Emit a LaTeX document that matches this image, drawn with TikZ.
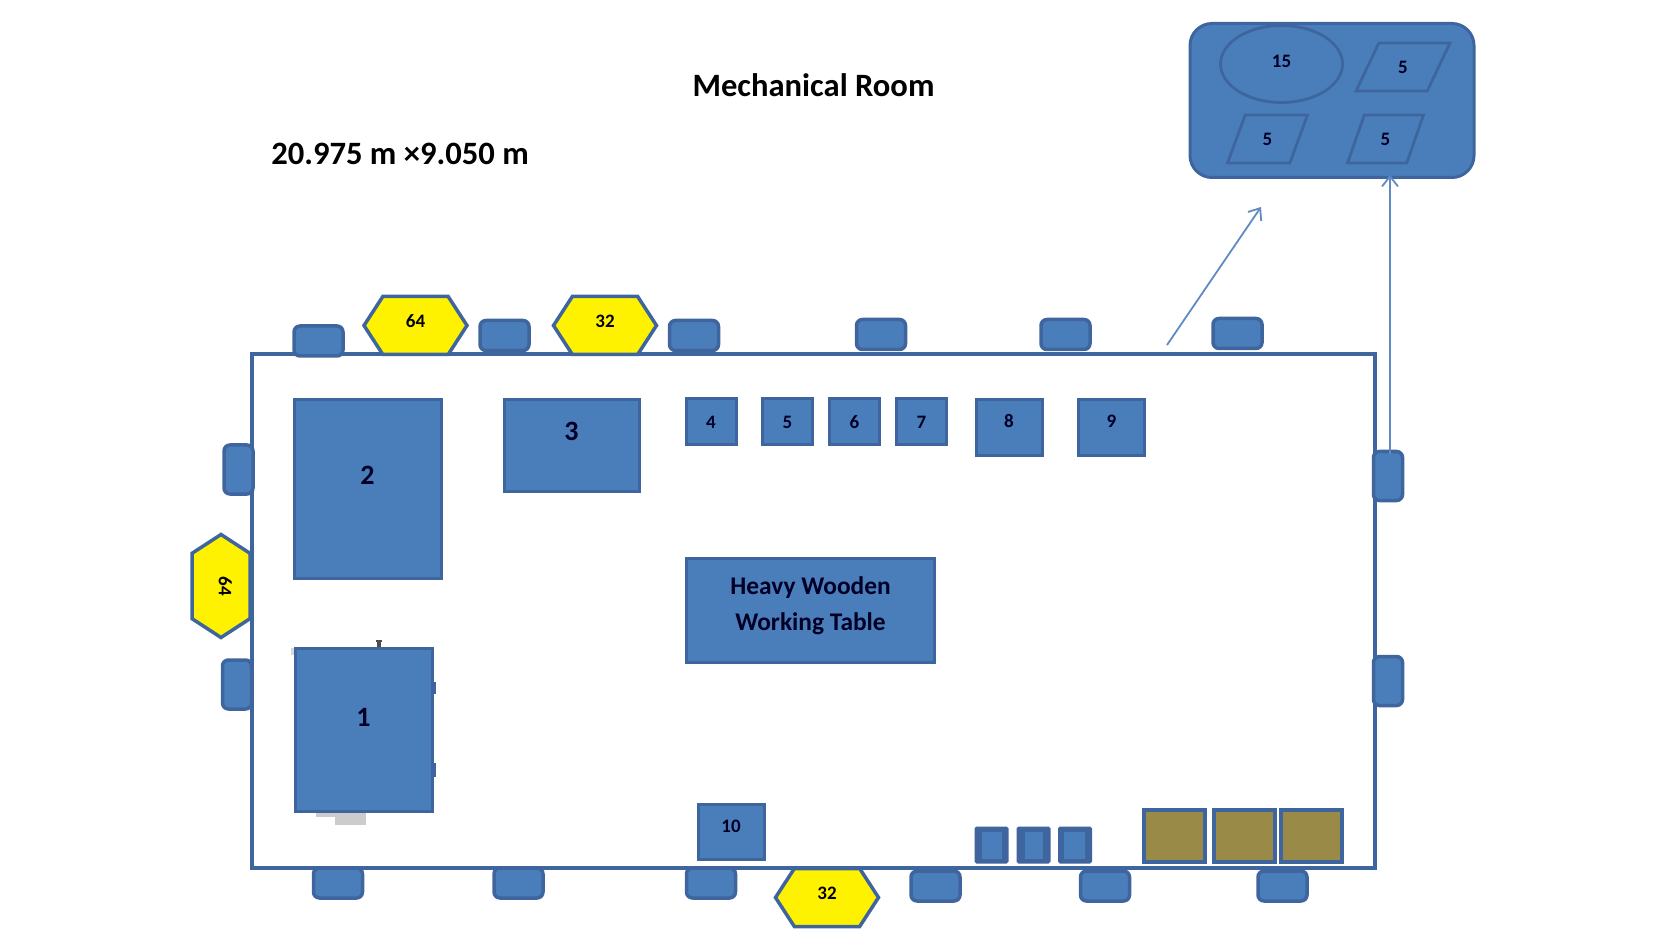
\documentclass[tikz,border=0pt]{standalone}
\usepackage{fontspec}
\setmainfont{Carlito}
\usetikzlibrary{shapes.geometric,shapes.symbols,arrows.meta,positioning}
\definecolor{steelfill}{HTML}{4A7EBB}
\definecolor{steeldraw}{HTML}{3F659E}
\definecolor{steelline}{HTML}{5F8AC2}
\definecolor{olivefill}{HTML}{9A8A48}
\tikzstyle{wallbox} = [rectangle, minimum width=561.5pt, minimum height=257pt, inner sep=0pt, draw=steeldraw, line width=1.75pt, fill=white]
\tikzstyle{block} = [rectangle, inner sep=0pt, draw=steeldraw, line width=1.5pt, fill=steelfill, font=\bfseries\fontsize{9.5}{11}\selectfont, text=black!85!blue]
\tikzstyle{bigblock} = [block, font=\bfseries\fontsize{14}{16}\selectfont]
\tikzstyle{stub} = [block, rounded corners=3pt, line width=1.75pt, minimum width=24.5pt, minimum height=15pt]
\tikzstyle{sidestub} = [stub, minimum width=14.5pt, minimum height=24.5pt]
\tikzstyle{hexa} = [signal, signal to=west and east, signal pointer angle=114, minimum width=51.5pt, minimum height=29pt, inner sep=0pt, draw=steeldraw, line width=1.75pt, fill=yellow, font=\bfseries\fontsize{9.5}{11}\selectfont, text=black, text depth=4.3pt]
\tikzstyle{minibox} = [block, minimum width=15.5pt, minimum height=17pt, rounded corners=0.5pt, fill=steeldraw]
\tikzstyle{crate} = [block, minimum width=30.5pt, minimum height=26pt, line width=2pt, fill=olivefill]
\tikzstyle{slant} = [trapezium, trapezium left angle=73, trapezium right angle=107, trapezium stretches=true, minimum width=38pt, minimum height=24pt, inner sep=0pt, draw=steeldraw, line width=1.4pt, fill=steelfill, font=\bfseries\fontsize{9.5}{11}\selectfont, text=black!85!blue]
\tikzstyle{arrow} = [steelline, line width=0.9pt, -{Straight Barb[length=5pt,width=8pt]}]
\begin{document}
\begin{tikzpicture}[x=0.5pt,y=-0.5pt]
\useasboundingbox (0,0) rectangle (1654,930);

\node (title) [font=\bfseries\fontsize{16.3}{19}\selectfont] at (813.5,85) {Mechanical Room};
\node (size) [font=\bfseries\fontsize{16.3}{19}\selectfont] at (400,154) {20.975 m ×9.050 m};

\node (wall) [wallbox] at (813.5,611) {};

%bits behind block 1
\fill [gray!40] (316,811) rectangle (336,817);
\fill [gray!40] (335,811) rectangle (366,825);
\fill [gray!30] (291,648) rectangle (295,655);
\fill [black!70] (377,640) rectangle (381,648);
\fill [black!70] (376,640) rectangle (382,642);
\fill [steeldraw] (432,682) rectangle (436,694);
\fill [steeldraw] (432,763) rectangle (436,777);

%machines
\node (m1) [bigblock, minimum width=68.5pt, minimum height=81.5pt, text depth=12pt] at (363.5,729.5) {1};
\node (m2) [bigblock, minimum width=73.5pt, minimum height=89pt, text depth=14pt] at (367.5,489) {2};
\node (m3) [bigblock, minimum width=67.5pt, minimum height=45.5pt, text depth=14pt] at (571.5,445.5) {3};
\node (m4) [block, minimum width=25pt, minimum height=23pt] at (711,422) {4};
\node (m5) [block, minimum width=25pt, minimum height=23pt] at (787.5,422) {5};
\node (m6) [block, minimum width=25pt, minimum height=23pt] at (854.5,422) {6};
\node (m7) [block, minimum width=25pt, minimum height=23pt] at (921.5,422) {7};
\node (m8) [block, minimum width=33pt, minimum height=28pt, text depth=6.4pt] at (1009,427.5) {8};
\node (m9) [block, minimum width=33pt, minimum height=28pt, text depth=6.4pt] at (1111.5,427.5) {9};
\node (m10) [block, minimum width=33pt, minimum height=27.5pt, text depth=5.5pt] at (731,831.5) {10};
\node (table) [block, minimum width=124pt, minimum height=52pt, font=\bfseries\fontsize{12.7}{18}\selectfont, align=center, text depth=6.5pt] at (810.5,610.5) {Heavy Wooden\\Working Table};

%small boxes and crates
\node (b1) [minibox] at (991.5,845) {};
\node (b2) [minibox] at (1033.5,845) {};
\node (b3) [minibox] at (1075,845) {};
\fill [steelfill] (982,832) rectangle (1002,859);
\fill [steelfill] (1025,832) rectangle (1043,859);
\fill [steelfill] (1064,832) rectangle (1085,859);
\node (c1) [crate] at (1174,836) {};
\node (c2) [crate] at (1244,836) {};
\node (c3) [crate] at (1311,836) {};

%wall stubs
\node (t1) [stub] at (318.5,341) {};
\node (t2) [stub] at (504.5,335.5) {};
\node (t3) [stub] at (694,335.5) {};
\node (t4) [stub] at (881,334.5) {};
\node (t5) [stub] at (1065.5,334.5) {};
\node (t6) [stub] at (1237.5,333.5) {};
\node (d1) [stub] at (338,883) {};
\node (d2) [stub] at (518.5,883) {};
\node (d3) [stub] at (711,883) {};
\node (d4) [stub] at (935.5,886) {};
\node (d5) [stub] at (1105,886) {};
\node (d6) [stub] at (1282.5,886) {};
\node (l1) [sidestub] at (238.5,469.5) {};
\node (l2) [sidestub] at (237,684.5) {};
\node (r1) [sidestub] at (1388,476) {};
\node (r2) [sidestub] at (1388,681) {};

%hexagons
\node (h1) [hexa] at (415.5,325.5) {64};
\node (h2) [hexa] at (605,325.5) {32};
\node (h3) [hexa] at (827,897.5) {32};
\node (h4) [hexa, rotate=-90] at (221,586) {64};

%top right cluster
\node (group) [block, rounded corners=11pt, minimum width=142pt, minimum height=77pt] at (1332,100.5) {};
\node (e15) [ellipse, minimum width=61pt, minimum height=38.5pt, inner sep=0pt, draw=steeldraw, line width=1.4pt, fill=steelfill, font=\bfseries\fontsize{9.5}{11}\selectfont, text=black!85!blue, text depth=2.3pt] at (1281.5,64) {15};
\node (p1) [slant, minimum width=47pt, trapezium left angle=70, trapezium right angle=110] at (1403,67) {5};
\node (p2) [slant, minimum width=40pt] at (1267.5,139) {5};
\node (p3) [slant] at (1385.5,139) {5};

%arrows
\coordinate (diagfrom) at (1167,345);
\coordinate (diagto) at (1261,207);
\coordinate (upfrom) at (1390,454);
\draw [arrow] (diagfrom) -- (diagto);
\draw [arrow, shorten >=-2pt] (upfrom) -- (upfrom |- group.south);
\end{tikzpicture}
\end{document}
